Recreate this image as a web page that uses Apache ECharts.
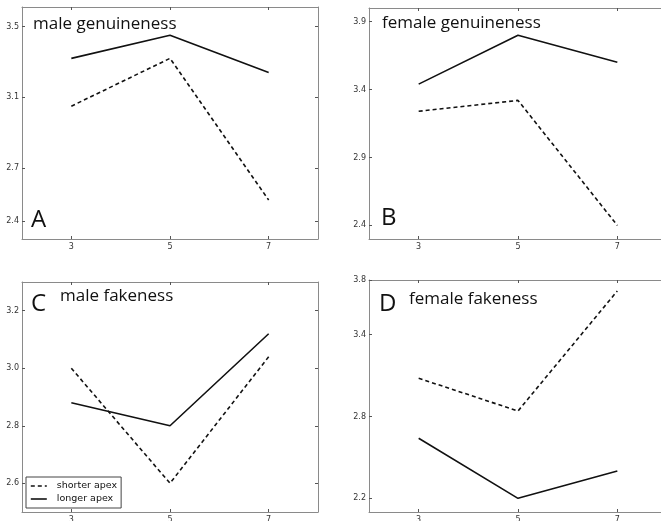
<!DOCTYPE html>
<html>
<head>
<meta charset="utf-8">
<script src="https://cdn.jsdelivr.net/npm/echarts@6/dist/echarts.min.js"></script>
<style>
  html, body { margin: 0; padding: 0; background: #fff; }
  #chart { width: 661px; height: 521px; }
</style>
</head>
<body>
<div id="chart"></div>
<script>
var myChart = echarts.init(document.getElementById('chart'));

// x 值 (apex 帧数)
var xs = [3, 5, 7];
var xTicks = [3, 5, 7];

// 各面板数据
var maleGenShorter = [3.05, 3.32, 2.52];
var maleGenLonger = [3.32, 3.45, 3.24];
var femaleGenShorter = [3.24, 3.32, 2.40];
var femaleGenLonger = [3.44, 3.80, 3.60];
var maleFakeShorter = [3.00, 2.60, 3.04];
var maleFakeLonger = [2.88, 2.80, 3.12];
var femaleFakeShorter = [3.08, 2.84, 3.72];
var femaleFakeLonger = [2.64, 2.20, 2.40];

// y 轴刻度
var yTicksA = [2.4, 2.7, 3.1, 3.5];
var yTicksB = [2.4, 2.9, 3.4, 3.9];
var yTicksC = [2.6, 2.8, 3.0, 3.2];
var yTicksD = [2.2, 2.8, 3.4, 3.8];

var panelTitles = ['male genuineness', 'female genuineness', 'male fakeness', 'female fakeness'];
var panelLetters = ['A', 'B', 'C', 'D'];
var seriesNames = ['shorter apex', 'longer apex'];

// 右边两个面板超出画布一点 (原图被裁掉了)
var panels = [
    { grid: { left: 22, top: 7, width: 296, height: 232 }, ymin: 2.3, ymax: 3.61, ticks: yTicksA, shorter: maleGenShorter, longer: maleGenLonger },
    { grid: { left: 369, top: 8, width: 298, height: 231 }, ymin: 2.3, ymax: 4.0, ticks: yTicksB, shorter: femaleGenShorter, longer: femaleGenLonger },
    { grid: { left: 22, top: 282, width: 296, height: 230 }, ymin: 2.5, ymax: 3.3, ticks: yTicksC, shorter: maleFakeShorter, longer: maleFakeLonger },
    { grid: { left: 369, top: 280, width: 298, height: 232 }, ymin: 2.1, ymax: 3.8, ticks: yTicksD, shorter: femaleFakeShorter, longer: femaleFakeLonger }
];

function pairs(vals) {
    return xs.map(function (x, i) { return [x, vals[i]]; });
}

var boxColor = '#8a8a8a';
var labelStyle = { fontFamily: 'DejaVu Sans', fontSize: 8, color: '#333' };

var grids = [], xAxes = [], yAxes = [], series = [];

panels.forEach(function (p, i) {
    grids.push(Object.assign({ outerBoundsMode: 'none', containLabel: false }, p.grid));
    // 下 / 上 x 轴
    ['bottom', 'top'].forEach(function (pos) {
        xAxes.push({
            type: 'value', gridIndex: i, position: pos, min: 2, max: 8,
            splitLine: { show: false },
            axisLine: { show: true, lineStyle: { color: boxColor, width: 1 } },
            axisTick: { show: true, inside: true, length: 3, customValues: xTicks, lineStyle: { color: '#555' } },
            axisLabel: pos === 'bottom'
                ? Object.assign({ show: true, margin: 4, customValues: xTicks }, labelStyle)
                : { show: false }
        });
    });
    // 左 / 右 y 轴
    ['left', 'right'].forEach(function (pos) {
        yAxes.push({
            type: 'value', gridIndex: i, position: pos, min: p.ymin, max: p.ymax,
            splitLine: { show: false },
            axisLine: { show: true, lineStyle: { color: boxColor, width: 1 } },
            axisTick: { show: true, inside: true, length: 3, customValues: p.ticks, lineStyle: { color: '#555' } },
            axisLabel: pos === 'left'
                ? Object.assign({ show: true, margin: 3, customValues: p.ticks,
                    formatter: function (v) { return v.toFixed(1); } }, labelStyle)
                : { show: false }
        });
    });
    series.push({
        name: seriesNames[0], type: 'line', xAxisIndex: i * 2, yAxisIndex: i * 2,
        data: pairs(p.shorter), symbol: 'none', silent: true,
        itemStyle: { color: '#111' },
        lineStyle: { color: '#111', width: 1.6, type: [4, 3] }
    });
    series.push({
        name: seriesNames[1], type: 'line', xAxisIndex: i * 2, yAxisIndex: i * 2,
        data: pairs(p.longer), symbol: 'none', silent: true,
        itemStyle: { color: '#111' },
        lineStyle: { color: '#111', width: 1.6, type: 'solid' }
    });
});

// 面板标题和字母
var titleFont = '17px "Open Sans"';
var letterFont = '24px "Open Sans"';
var graphics = [
    { type: 'text', left: 33, top: 16, style: { text: panelTitles[0], font: titleFont, fill: '#111' } },
    { type: 'text', left: 382, top: 15, style: { text: panelTitles[1], font: titleFont, fill: '#111' } },
    { type: 'text', left: 60, top: 288, style: { text: panelTitles[2], font: titleFont, fill: '#111' } },
    { type: 'text', left: 409, top: 291, style: { text: panelTitles[3], font: titleFont, fill: '#111' } },
    { type: 'text', left: 31, top: 208, style: { text: panelLetters[0], font: letterFont, fill: '#111' } },
    { type: 'text', left: 381, top: 206, style: { text: panelLetters[1], font: letterFont, fill: '#111' } },
    { type: 'text', left: 31, top: 292, style: { text: panelLetters[2], font: letterFont, fill: '#111' } },
    { type: 'text', left: 379, top: 292, style: { text: panelLetters[3], font: letterFont, fill: '#111' } }
];

var option = {
    animation: false,
    backgroundColor: '#fff',
    grid: grids,
    xAxis: xAxes,
    yAxis: yAxes,
    series: series,
    graphic: graphics,
    legend: {
        data: seriesNames,
        orient: 'vertical',
        left: 26, top: 477,
        itemWidth: 16, itemHeight: 10, itemGap: 3,
        padding: [4, 4, 4, 4],
        borderColor: '#444', borderWidth: 1, borderRadius: 0,
        selectedMode: false,
        itemStyle: { opacity: 0 },
        lineStyle: { color: '#111', width: 1.6 },
        textStyle: { fontFamily: 'DejaVu Sans', fontSize: 9.5, color: '#111', padding: [0, 0, 0, 5] }
    }
};

myChart.setOption(option);
</script>
</body>
</html>
